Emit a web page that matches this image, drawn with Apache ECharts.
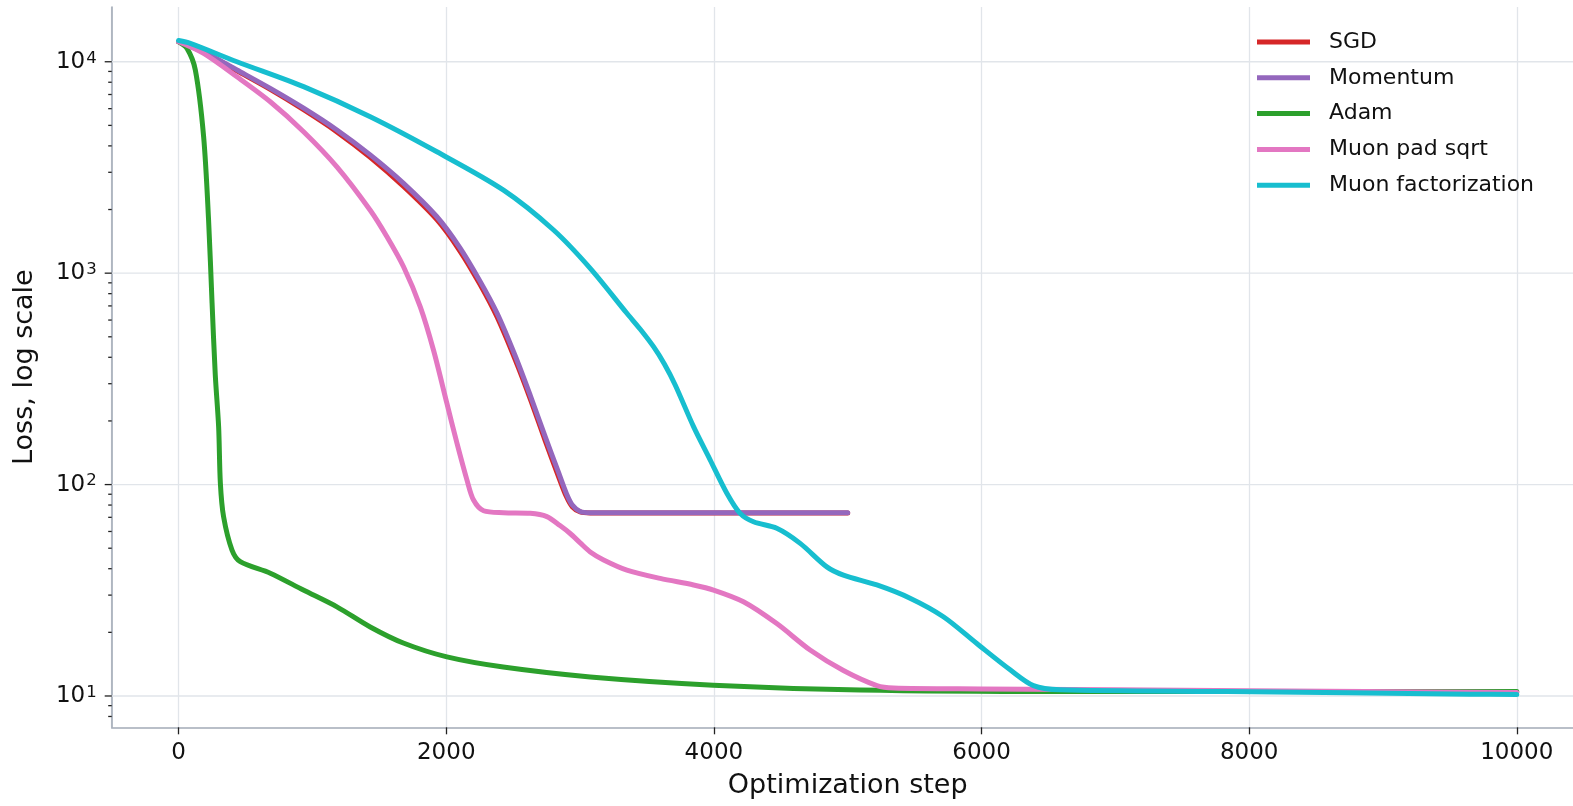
<!DOCTYPE html>
<html><head><meta charset="utf-8">
<script src="https://cdn.jsdelivr.net/npm/echarts@6/dist/echarts.min.js"></script>
<style>html,body{margin:0;padding:0;background:#fff}#c{width:1573px;height:806px}</style>
</head><body><div id="c"></div>
<script>
// ---------- data ----------
const seriesNames = ['SGD', 'Momentum', 'Adam', 'Muon pad sqrt', 'Muon factorization'];
const seriesColors = ['#d62728', '#9467bd', '#2ca02c', '#e377c2', '#17becf'];

const sgdSteps = [0, 187, 436, 685, 934, 1183, 1432, 1681, 1930, 2100, 2250, 2380, 2515, 2627, 2740, 2837, 2897, 2942, 3001, 3076, 4000, 5000];
const sgdLoss  = [12450, 11100, 9060, 7400, 5930, 4660, 3530, 2570, 1790, 1280, 890, 620, 390, 255, 161, 110, 88, 78.5, 74.2, 73.4, 73.4, 73.4];

const momentumSteps = [0, 187, 436, 685, 934, 1183, 1432, 1681, 1930, 2100, 2250, 2380, 2515, 2627, 2740, 2837, 2897, 2942, 3001, 3076, 4000, 5000];
const momentumLoss  = [12450, 11150, 9140, 7480, 6030, 4755, 3625, 2660, 1849, 1325, 922, 646, 407, 265, 168, 115, 91, 80, 74.6, 73.6, 73.6, 73.6];

const adamSteps = [0, 63, 125, 187, 224, 250, 274, 299, 312, 336, 399, 461, 685, 932, 1183, 1432, 1679, 2005, 2426, 3076, 3995, 5093, 6587, 8000, 10000];
const adamLoss  = [12435, 11570, 9140, 4415, 1782, 723, 330, 188, 101.6, 70.5, 49, 43.2, 38.1, 31.7, 26.4, 21.2, 17.8, 15.3, 13.7, 12.3, 11.25, 10.67, 10.5, 10.5, 10.5];

const muonPadSteps = [0, 187, 436, 685, 934, 1183, 1432, 1557, 1681, 1806, 1905, 2005, 2080, 2155, 2204, 2279, 2428, 2628, 2752, 2850, 2926, 3001, 3076, 3176, 3350, 3599, 3848, 3997, 4221, 4470, 4719, 4968, 5218, 5342, 6000, 8000, 10000];
const muonPadLoss  = [12450, 10960, 8490, 6470, 4670, 3185, 1985, 1487, 1072, 693, 432, 242, 157, 105, 84.5, 75.2, 73.6, 73.1, 70.5, 64, 58.7, 53, 48, 44, 39.4, 36, 33.5, 31.7, 27.9, 22, 16.5, 13.2, 11.2, 10.9, 10.8, 10.6, 10.4];

const muonFactSteps = [0, 87, 436, 934, 1432, 1930, 2428, 2802, 3076, 3350, 3450, 3549, 3630, 3711, 3848, 3972, 4097, 4196, 4296, 4470, 4645, 4844, 4968, 5218, 5466, 5715, 5965, 6214, 6388, 6587, 7833, 9650, 10000];
const muonFactLoss  = [12600, 12220, 10000, 7625, 5495, 3750, 2470, 1600, 1054, 646, 543, 449, 372, 296, 188, 131, 91, 73.1, 66.7, 62.1, 52.7, 40.8, 37.3, 33.5, 29, 23.7, 17.7, 13.3, 11.2, 10.7, 10.5, 10.2, 10.15];

const yMajorTicks = [10, 100, 1000, 10000];
const yMinorTicks = [8, 9, 20, 30, 40, 50, 60, 70, 80, 90, 200, 300, 400, 500, 600, 700, 800, 900, 2000, 3000, 4000, 5000, 6000, 7000, 8000, 9000];

// ---------- layout ----------
const xAxisMin = -500, xAxisMax = 10500;
const yAxisMin = 7.11, yAxisMax = 18155;
const FONT = 'DejaVu Sans';
const gridColor = '#e1e5ea';
const spineColor = '#a3abb6';

const pairs = (xs, ys) => xs.map((x, i) => [x, ys[i]]);
const allData = [
  pairs(sgdSteps, sgdLoss),
  pairs(momentumSteps, momentumLoss),
  pairs(adamSteps, adamLoss),
  pairs(muonPadSteps, muonPadLoss),
  pairs(muonFactSteps, muonFactLoss)
];

const lineSeries = seriesNames.map((name, i) => ({
  name, type: 'line', data: allData[i], z: 3 + i,
  showSymbol: false, symbol: 'none',
  smooth: 0.3,
  lineStyle: { width: 5, color: seriesColors[i], cap: 'round', join: 'round' },
  itemStyle: { color: seriesColors[i] }
}));

const tickData = yMajorTicks.map(v => [7, v]).concat(yMinorTicks.map(v => [3.5, v]));

const chart = echarts.init(document.getElementById('c'));
chart.setOption({
  animation: false,
  backgroundColor: '#fff',
  textStyle: { fontFamily: FONT },
  grid: { left: 111.7, width: 1472, top: 7, bottom: 78.7, containLabel: false, outerBoundsMode: 'none' },
  legend: {
    data: seriesNames, orient: 'vertical', left: 1252, top: 25.5,
    itemWidth: 53, itemHeight: 5, itemGap: 12.8, icon: 'rect',
    textStyle: { fontSize: 22, color: '#111', fontFamily: FONT, padding: [0, 0, 0, 14], lineHeight: 23 }
  },
  xAxis: {
    type: 'value', min: xAxisMin, max: xAxisMax, splitNumber: 5,
    name: 'Optimization step', nameLocation: 'middle', nameGap: 45,
    nameTextStyle: { fontSize: 27, color: '#111', fontFamily: FONT },
    axisLine: { show: true, onZero: false, lineStyle: { color: spineColor, width: 1.6 } },
    axisTick: { show: true, length: 7, lineStyle: { color: '#222', width: 1.3 } },
    axisLabel: { fontSize: 23, color: '#111', margin: 14, showMinLabel: false, showMaxLabel: false, fontFamily: FONT,
      formatter: v => String(v) },
    splitLine: { show: true, lineStyle: { color: gridColor, width: 1.3 } }
  },
  yAxis: {
    type: 'log', min: yAxisMin, max: yAxisMax, logBase: 10,
    name: 'Loss, log scale', nameLocation: 'middle', nameGap: 73,
    nameTextStyle: { fontSize: 27, color: '#111', fontFamily: FONT },
    axisLine: { show: true, onZero: false, lineStyle: { color: spineColor, width: 1.6 } },
    axisTick: { show: false },
    axisLabel: {
      color: '#111', margin: 15, showMinLabel: false, showMaxLabel: false, fontFamily: FONT,
      formatter: v => '{b|10}{s|' + Math.round(Math.log10(v)) + '}',
      rich: {
        b: { fontSize: 23, lineHeight: 24, color: '#111', fontFamily: FONT },
        s: { fontSize: 16.5, lineHeight: 17, color: '#111', fontFamily: FONT, verticalAlign: 'top', padding: [0, 0, 0, 1] }
      }
    },
    splitLine: { show: false }
  },
  series: [
    {
      type: 'custom', name: 'ygrid', silent: true, z: 1,
      data: yMajorTicks.map(v => [0, v]),
      renderItem: (params, api) => {
        const a = api.coord([xAxisMin, api.value(1)]);
        const b = api.coord([xAxisMax, api.value(1)]);
        return { type: 'line', shape: { x1: a[0], y1: a[1], x2: b[0], y2: b[1] }, style: { stroke: gridColor, lineWidth: 1.3 } };
      }
    },
    {
      type: 'custom', name: 'yticks', silent: true, z: 2, clip: false,
      data: tickData,
      renderItem: (params, api) => {
        const p = api.coord([xAxisMin, api.value(1)]);
        const len = api.value(0);
        return { type: 'line', shape: { x1: p[0] - len, y1: p[1], x2: p[0], y2: p[1] }, style: { stroke: '#222', lineWidth: 1.3 } };
      }
    }
  ].concat(lineSeries)
});
</script></body></html>
